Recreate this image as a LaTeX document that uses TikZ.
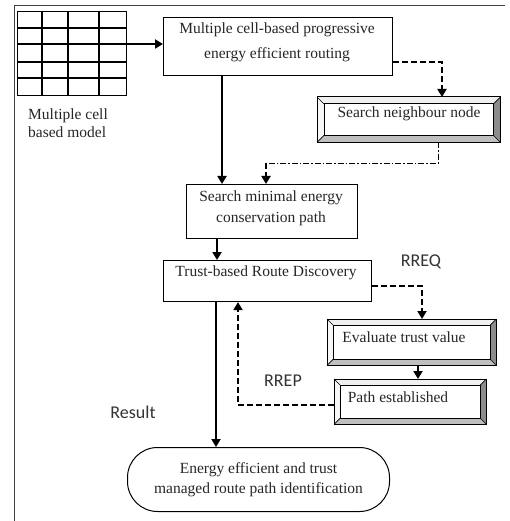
\documentclass[tikz,border=0pt]{standalone}
\usepackage{fontspec}
\setmainfont{Liberation Serif}
\newfontfamily\lblfont{Carlito}
\usetikzlibrary{arrows.meta,calc}
\newcommand\bevelize[2]{%
  \fill[black!6] (#1.north west) -- (#1.north east) -- ([shift={(-#2,-#2)}]#1.north east) -- ([shift={(#2,-#2)}]#1.north west) -- cycle;
  \fill[black!3] (#1.north west) -- (#1.south west) -- ([shift={(#2,#2)}]#1.south west) -- ([shift={(#2,-#2)}]#1.north west) -- cycle;
  \fill[black!45] (#1.north east) -- (#1.south east) -- ([shift={(-#2,#2)}]#1.south east) -- ([shift={(-#2,-#2)}]#1.north east) -- cycle;
  \fill[black!25] (#1.south west) -- (#1.south east) -- ([shift={(-#2,#2)}]#1.south east) -- ([shift={(#2,#2)}]#1.south west) -- cycle;
  \draw[line width=1pt] (#1.north west) rectangle (#1.south east);
  \draw[line width=1pt] ([shift={(#2,-#2)}]#1.north west) rectangle ([shift={(-#2,#2)}]#1.south east);
  \draw[line width=0.6pt] (#1.north west) -- ([shift={(#2,-#2)}]#1.north west)
    (#1.north east) -- ([shift={(-#2,-#2)}]#1.north east)
    (#1.south west) -- ([shift={(#2,#2)}]#1.south west)
    (#1.south east) -- ([shift={(-#2,#2)}]#1.south east);
}
\begin{document}
\begin{tikzpicture}[x=1pt,y=-1pt,
  boxst/.style={draw=black, line width=1.1pt, fill=white, inner sep=0pt, anchor=north west},
  bevelst/.style={fill=white, inner sep=0pt, anchor=north west},
  txt/.style={font=\fontsize{15.5}{21}\selectfont, inner sep=0pt, align=center, text=black!85},
  lbl/.style={font=\lblfont\fontsize{18}{20}\selectfont, inner sep=0pt, text=black!80},
  solidarr/.style={line width=2.4pt, -{Triangle[length=8pt,width=9pt]}},
  dasharr/.style={line width=2pt, dash pattern=on 6pt off 3pt, -{Triangle[length=8pt,width=9pt]}},
  thindash/.style={line width=0.9pt, dash pattern=on 6pt off 2pt on 1.5pt off 2pt}
]
\useasboundingbox (0,0) rectangle (510,521);
% frame
\draw[line width=1pt, black!75] (505,6) -- (14,6) -- (14,521);
% grid
\node[draw, line width=1.2pt, minimum width=109pt, minimum height=84pt, inner sep=0pt, anchor=north west] (grid) at (17,11) {};
\foreach \gx in {42,68,99} \draw[line width=1.2pt] (\gx,11) -- (\gx,95);
\foreach \gy in {28,44,62,78} \draw[line width=1.2pt] (17,\gy) -- (126,\gy);
\node[txt, align=left, anchor=north west, font=\rmfamily\fontsize{15.5}{18}\selectfont] (mcm) at (28,109) {Multiple cell\\based model};
% boxes
\node[boxst, minimum width=229pt, minimum height=58pt] (b1) at (163,17) {};
\node[txt, font=\fontsize{15.5}{25}\selectfont] (t1) at (277,42.5) {Multiple cell-based progressive\\energy efficient routing};

\node[bevelst, minimum width=183pt, minimum height=45pt] (b2) at (317,97) {};
\bevelize{b2}{7pt}
\node[txt] (t2) at (409,114) {Search neighbour node};

\node[boxst, minimum width=171pt, minimum height=54pt] (b3) at (186,184) {};
\node[txt] (t3) at (271,208.5) {Search minimal energy\\conservation path};

\node[boxst, minimum width=208pt, minimum height=41pt] (b4) at (163,260) {};
\node[txt] (t4) at (266,272.5) {Trust-based Route Discovery};

\node[bevelst, minimum width=169pt, minimum height=46pt] (b5) at (327,319) {};
\bevelize{b5}{6pt}
\node[txt] (t5) at (404,337) {Evaluate trust value};

\node[bevelst, minimum width=152pt, minimum height=45pt] (b6) at (334,379) {};
\bevelize{b6}{6pt}
\node[txt] (t6) at (398,397) {Path established};

\node[draw, line width=1pt, rounded corners=30pt, minimum width=262pt, minimum height=64pt, inner sep=0pt, anchor=north west, txt, font=\fontsize{15.5}{20}\selectfont] (res) at (127,447) {Energy efficient and trust\\managed route path identification};

% labels
\node[lbl] (rreq) at (421,262) {RREQ};
\node[lbl] (rrep) at (283,381) {RREP};
\node[lbl] (result) at (133,412) {Result};

% connectors
\coordinate (a1) at (0,44);
\draw[solidarr] (grid.east |- a1) -- (b1.west |- a1);
\coordinate (xa) at (222,0);
\draw[solidarr] (b1.south -| xa) -- (b3.north -| xa);
\coordinate (k1) at (442,62);
\draw[dasharr] (b1.east |- k1) -- (k1) -- (b2.north -| k1);
\coordinate (k2) at (438,163);
\coordinate (k3) at (266,163);
\draw[thindash] (b2.south -| k2) -- (k2) -- (k3);
\draw[dasharr] (k3) -- (b3.north -| k3);
\coordinate (xb) at (217,0);
\draw[solidarr] (b3.south -| xb) -- (b4.north -| xb);
\coordinate (k4) at (422,286);
\draw[dasharr] (b4.east |- k4) -- (k4) -- (b5.north -| k4);
\coordinate (xc) at (418,0);
\draw[dasharr] (b5.south -| xc) -- (b6.north -| xc);
\coordinate (k5) at (238,405);
\draw[dasharr] (b6.west |- k5) -- (k5) -- (b4.south -| k5);
\coordinate (xd) at (216,0);
\draw[solidarr] (b4.south -| xd) -- (res.north -| xd);
\end{tikzpicture}
\end{document}
